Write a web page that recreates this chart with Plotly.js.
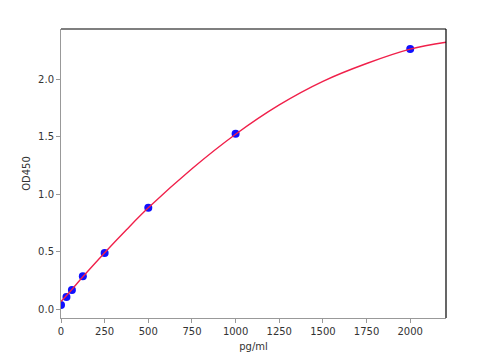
<!DOCTYPE html>
<html><head><meta charset="utf-8">
<script src="https://cdn.plot.ly/plotly-3.0.1.min.js"></script>
<style>html,body{margin:0;padding:0;background:#fff}#chart{width:477px;height:360px}</style>
</head><body><div id="chart"></div>
<script>
// Standard points
const concentrations = [0, 31.25, 62.5, 125, 250, 500, 1000, 2000];
const odValues = [0.035, 0.105, 0.165, 0.285, 0.488, 0.88, 1.525, 2.262];
// Fitted curve
const curveX = [0, 62.5, 125, 250, 375, 500, 750, 1000, 1250, 1500, 1750, 2000, 2205];
const curveY = [0.065, 0.17, 0.28, 0.49, 0.69, 0.88, 1.22, 1.52, 1.775, 1.98, 2.135, 2.26, 2.32];
const xTicks = [0, 250, 500, 750, 1000, 1250, 1500, 1750, 2000];
const yTicks = [0.0, 0.5, 1.0, 1.5, 2.0];

const traces = [
  {x: concentrations, y: odValues, type: 'scatter', mode: 'markers',
   marker: {color: '#1010ff', size: 8}, hoverinfo: 'none'},
  {x: curveX, y: curveY, type: 'scatter', mode: 'lines',
   line: {color: '#f0204a', width: 1.4, shape: 'spline'}, hoverinfo: 'none'}
];
const font = {family: 'DejaVu Sans', size: 10, color: '#333'};
const layout = {
  width: 477, height: 360, showlegend: false,
  paper_bgcolor: '#fff', plot_bgcolor: '#fff',
  margin: {l: 61, r: 31, t: 29, b: 42},
  font: font,
  xaxis: {range: [0, 2205], tickvals: xTicks, ticktext: xTicks.map(String),
    showgrid: false, zeroline: false, showline: true, linecolor: '#999', linewidth: 1,
    ticks: 'outside', ticklen: 4, tickcolor: '#999', tickfont: font,
    title: {text: 'pg/ml', font: font, standoff: 6}},
  yaxis: {range: [-0.078, 2.435], tickvals: yTicks, ticktext: yTicks.map(v => v.toFixed(1)),
    showgrid: false, zeroline: false, showline: true, linecolor: '#999', linewidth: 1,
    ticks: 'outside', ticklen: 4, tickcolor: '#999', tickfont: font,
    title: {text: 'OD450', font: font, standoff: 5}},
  shapes: [
    {type: 'line', xref: 'paper', yref: 'paper', x0: 0, x1: 1, y0: 1, y1: 1, line: {color: '#000', width: 1.2}},
    {type: 'line', xref: 'paper', yref: 'paper', x0: 1, x1: 1, y0: 0, y1: 1, line: {color: '#000', width: 1.2}}
  ]
};
Plotly.newPlot('chart', traces, layout, {displayModeBar: false, staticPlot: true});
</script></body></html>
